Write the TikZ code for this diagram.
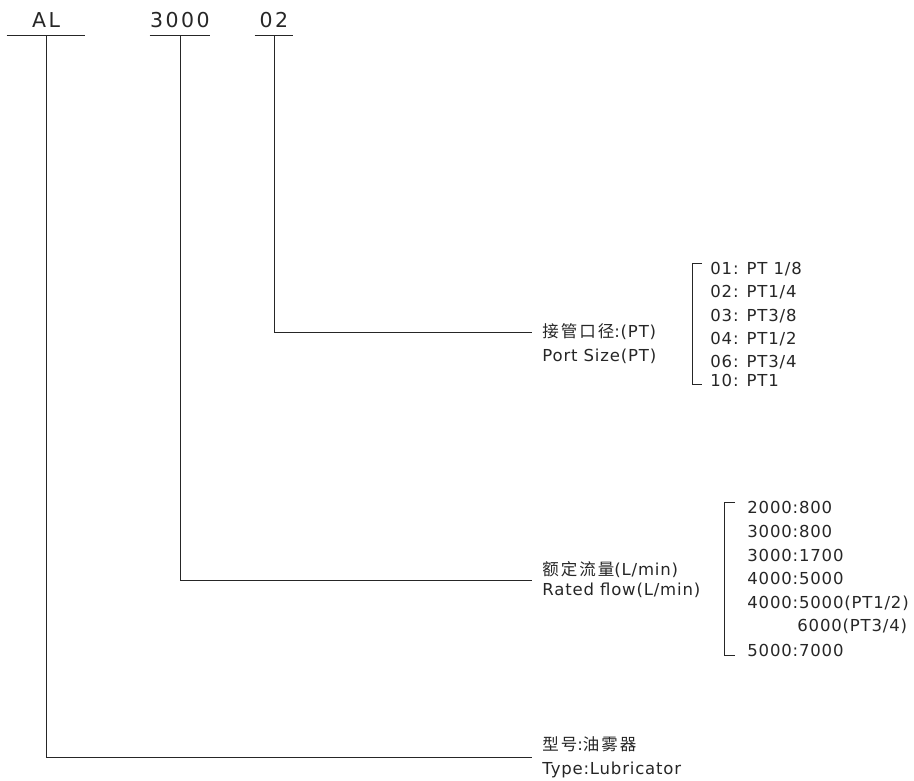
\documentclass[tikz,border=0pt]{standalone}
\usepackage{fontspec}
\setmainfont{DejaVu Sans}[LetterSpace=5]
\newfontfamily\codefont{DejaVu Sans}[LetterSpace=12]
\newfontfamily\cjk{Noto Sans CJK SC}[LetterSpace=12]
\usetikzlibrary{positioning}

\begin{document}
\begin{tikzpicture}[x=1pt, y=-1pt, line width=0.8pt, color=black!85,
  code/.style={font=\codefont\fontsize{20.5}{24}\selectfont, inner xsep=0pt, inner ysep=8pt, anchor=base},
  lbl/.style={font=\fontsize{16.5}{20}\selectfont, inner xsep=10pt, inner ysep=0pt, anchor=west, align=left},
  item/.style={font=\fontsize{16.5}{20}\selectfont, inner sep=0pt, anchor=west}]
\useasboundingbox (0,0) rectangle (914,780);
%%%%% Code %%%%%
\node[code, minimum width=78pt] (AL) at (46,27) {AL};
\node[code, minimum width=60pt] (c3000) at (180,27) {3000};
\node[code, minimum width=38pt] (c02) at (274,27) {02};
\foreach \n in {AL,c3000,c02}{
\draw (\n.south west)--(\n.south east);
}
%%%%% Labels %%%%%
\node[lbl] (portCn) at (532,332) {{\cjk 接管口径}:(PT)};
\node[lbl] (portEn) at (532,356) {Port Size(PT)};
\node[lbl, font=\fontsize{16.5}{20}\selectfont] (flowLbl) at (532,580) {{\cjk 额定流量}(L/min)\\Rated flow(L/min)};
\node[lbl, font=\fontsize{16.5}{24}\selectfont] (typeLbl) at (532,757) {{\cjk 型号}:{\cjk 油雾器}\\Type:Lubricator};
%%%%% Lines %%%%%
\draw (c02.south) |- (portCn.west);
\draw (c3000.south) |- (flowLbl.west);
\draw (AL.south) |- (typeLbl.west);
%%%%% Port sizes %%%%%
\draw (702,263)--(692,263)--(692,384)--(702,384);
\foreach \y/\t [count=\i] in {269/{01: PT 1/8},292/{02: PT1/4},316/{03: PT3/8},339/{04: PT1/2},362/{06: PT3/4},380/{10: PT1}}{
\node[item] (port\i) at (710,\y) {\t};
}
%%%%% Flow %%%%%
\draw (735,502)--(724,502)--(724,655)--(735,655);
\foreach \x/\y/\t [count=\i] in {747/507/{2000:800},747/531/{3000:800},747/555/{3000:1700},747/578/{4000:5000},747/603/{4000:5000(PT1/2)},797/626/{6000(PT3/4)},747/650/{5000:7000}}{
\node[item] (flow\i) at (\x,\y) {\t};
}
\end{tikzpicture}
\end{document}
